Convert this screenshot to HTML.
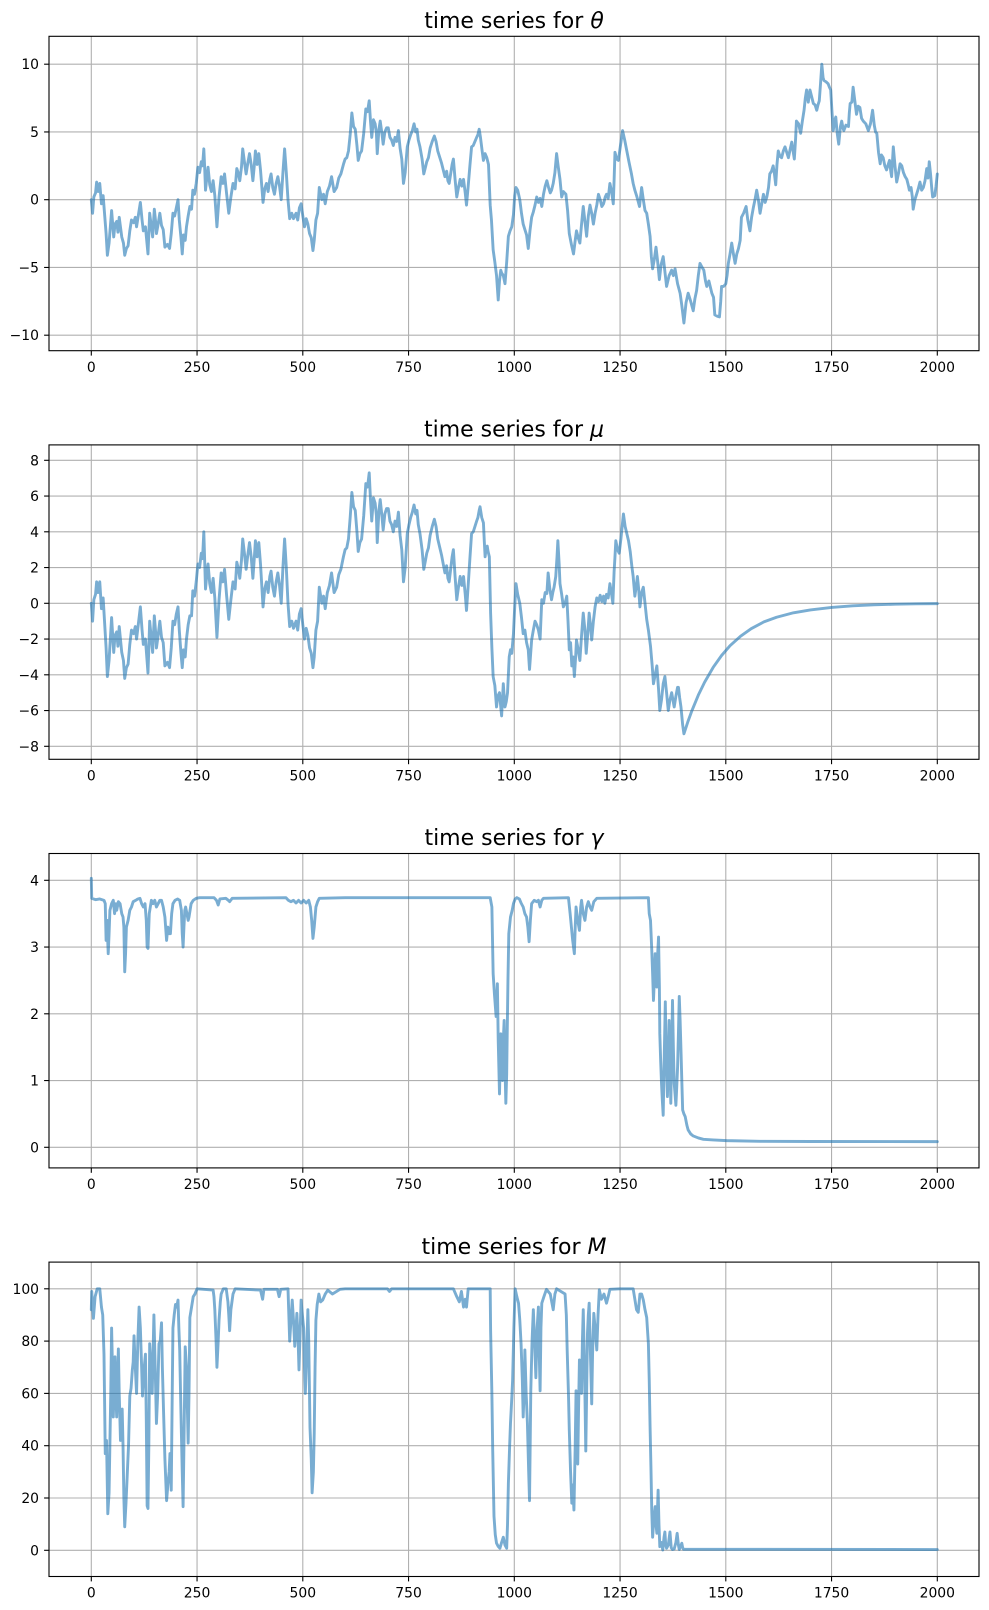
<!DOCTYPE html>
<html>
<head>
<meta charset="utf-8">
<style>
html,body{margin:0;padding:0;background:#fff;}
svg{display:block;}
text{font-family:"DejaVu Sans","Liberation Sans",sans-serif;fill:#000;}
.t{font-size:22px;text-anchor:middle;}
.xl{font-size:13.9px;text-anchor:middle;}
.yl{font-size:13.9px;text-anchor:end;}
.g line{stroke:#b0b0b0;stroke-width:1.1;}
.tk line{stroke:#000;stroke-width:1.1;}
.ax{fill:none;stroke:#000;stroke-width:1.1;}
.s{fill:none;stroke:#1f77b4;stroke-opacity:0.6;stroke-width:2.9;stroke-linejoin:round;stroke-linecap:round;}
</style>
</head>
<body>
<svg width="989" height="1610" viewBox="0 0 989 1610" xmlns="http://www.w3.org/2000/svg">
<rect width="989" height="1610" fill="#fff"/>

<!-- ================= PLOT 1 : theta ================= -->
<g class="g">
<line x1="91.3" y1="36.3" x2="91.3" y2="350.7"/><line x1="197.05" y1="36.3" x2="197.05" y2="350.7"/><line x1="302.8" y1="36.3" x2="302.8" y2="350.7"/><line x1="408.55" y1="36.3" x2="408.55" y2="350.7"/><line x1="514.3" y1="36.3" x2="514.3" y2="350.7"/><line x1="620.05" y1="36.3" x2="620.05" y2="350.7"/><line x1="725.8" y1="36.3" x2="725.8" y2="350.7"/><line x1="831.55" y1="36.3" x2="831.55" y2="350.7"/><line x1="937.3" y1="36.3" x2="937.3" y2="350.7"/>
<line x1="49" y1="64.2" x2="979" y2="64.2"/><line x1="49" y1="131.95" x2="979" y2="131.95"/><line x1="49" y1="199.7" x2="979" y2="199.7"/><line x1="49" y1="267.45" x2="979" y2="267.45"/><line x1="49" y1="335.2" x2="979" y2="335.2"/>
</g>
<g transform="translate(91.3,199.7) scale(0.423,-13.55)">
<polyline class="s" vector-effect="non-scaling-stroke" points="0,0 3,-1 6,0.2 10,0.5 12.6,1.3 16,0.6 20,1.2 24,-0.3 28,0.3 35,-2.5 38,-4.1 42,-3.2 48,-0.8 53,-2.75 56,-1.8 60,-1.6 63,-2.4 66,-1.3 72,-2.75 76,-3.2 79,-4.1 83,-3.6 87,-3.4 91,-2.3 95,-1.5 100,-1.7 104,-1.3 107,-2 112,-1.0 116,-0.2 120,-1.5 123,-2.3 128,-2.0 134,-4 136,-2.5 138,-1 142,-2.0 145,-2.75 149,-0.7 152,-1.6 154,-2.5 158,-1.8 162,-1 166,-1.9 170,-2.2 174,-3.5 180,-3.3 185,-3.6 189,-2.5 193,-1 197,-1.2 201,-0.6 205,0 208,-1.5 212,-2.8 215,-4 218,-2.6 222,-3.0 225,-2 229,-1.2 233,-0.5 237,-0.7 240,0.7 244,0.4 248,1.2 252,2.4 256,2.0 260,2.8 263,2.5 266,3.75 268,2.4 270,0.7 273,1.6 276,2.4 280,1.1 284,0.6 288,1.4 292,0.3 297,-2 302,0.2 307,1.7 311,1.2 315,1.9 320,0.4 325,-1 330,0.2 335,1.2 340,0.8 344,2.3 348,1.9 351,1.4 355,2.4 358,3.75 362,2.8 366,1.9 370,2.7 374,3.4 378,2.6 382,1.4 385,2.4 388,3.6 392,2.6 396,3.4 400,2.2 403,1.0 406,-0.2 410,0.8 414,1.2 418,0.6 422,1.5 425,1.9 429,0.9 433,0.4 437,1.2 441,1.7 445,1.0 449,0 453,2.0 457,3.75 461,2.0 465,0 469,-1.4 474,-1.0 478,-1.4 484,-1 488,-1.5 492,-0.6 496,-0.3 500,-1.2 504,-2 508,-1.4 512,-1.8 516,-2.5 520,-2.8 524,-3.75 527,-3.0 531,-1.5 535,-1.0 539,0.9 545,0 549,0.4 553,-0.3 558,0.6 563,1.0 568,1.7 574,0.6 580,0.9 585,1.6 590,1.9 596,2.6 600,3.0 604,3.1 608,3.6 612,4.8 616,6.4 620,5.4 624,5.2 628,4.0 631,2.9 635,3.4 639,3.6 644,4.9 649,6.7 653,6.5 657,7.3 660,5.8 663,4.6 667,5.9 671,5.6 674,4.9 676,3.4 680,5.2 683,5.8 687,4.9 690,4.1 694,5.0 698,5.3 702,5.3 706,4.6 710,4.4 714,4.0 718,4.6 722,4.3 726,5.1 730,3.8 734,3.0 738,1.2 742,2.0 747,3.9 751,4.4 755,4.8 759,5.1 763,5.6 767,5.0 770,5.2 773,4.4 777,3.9 782,3.0 786,1.9 790,2.4 793,2.8 797,3.1 801,3.8 806,4.3 811,4.7 815,4.3 819,3.6 824,3.1 828,2.7 832,2.2 836,1.7 840,2.1 843,1.4 846,1.2 850,2.0 853,2.6 856,3.0 860,1.5 864,0.2 868,0.9 872,1.5 876,1.0 880,1.5 884,0.5 887,-0.4 891,1.0 895,2.5 899,3.9 903,4.0 907,4.3 911,4.6 914,4.8 917,5.2 920,4.6 924,3.6 927,2.9 931,3.4 935,3.1 939,2.6 943,-0.4 946,-1.5 950,-3.7 954,-4.6 958,-5.6 962,-7.4 965,-6.0 968,-5.2 970,-5.4 974,-5.6 978,-6.2 982,-4.6 986,-2.7 990,-2.3 994,-2.0 998,-1.1 1001,0.3 1004,0.9 1008,0.7 1013,0 1017,-1.0 1021,-1.8 1025,-2.2 1029,-2.6 1033,-3.6 1037,-2.3 1041,-1.3 1045,-0.9 1049,-0.4 1053,0.2 1057,-0.2 1061,0.1 1065,-0.5 1069,0.4 1073,1.0 1077,1.4 1081,0.9 1085,0.5 1088,0.7 1092,1.2 1096,2.0 1100,3.4 1104,2.4 1108,1.5 1112,0.2 1116,0.6 1122,0.4 1126,-0.8 1130,-2.5 1135,-3.3 1140,-4.0 1144,-3.0 1147,-2.3 1151,-2.8 1155,-3.2 1159,-1.8 1163,-0.5 1167,-1.6 1171,-2.7 1175,-1.2 1179,-0.4 1183,-1.0 1187,-1.8 1191,-1.0 1195,-0.4 1199,0.4 1203,0 1207,-0.5 1211,-0.3 1215,0.2 1218,0.4 1222,0.1 1226,1.2 1230,0.6 1234,-0.3 1236,1.5 1238,3.5 1242,3.0 1246,2.9 1251,4.0 1256,5.1 1261,4.4 1266,3.6 1271,2.8 1277,1.9 1281,1.2 1285,0.7 1290,0.2 1296,-0.5 1301,0.9 1305,0.0 1309,-0.8 1313,-1.0 1317,-1.8 1321,-2.7 1324,-4.2 1327,-5.1 1331,-4.4 1335,-3.5 1339,-4.6 1343,-5.9 1347,-4.8 1352,-4.2 1356,-5.3 1360,-6.4 1366,-5.6 1372,-5.2 1376,-5.6 1380,-5.1 1386,-6.2 1392,-6.9 1396,-7.8 1401,-9.1 1406,-7.6 1411,-6.9 1417,-7.5 1423,-8.2 1427,-7.3 1431,-6.7 1435,-5.6 1439,-4.7 1444,-5.0 1448,-5.2 1452,-6.0 1455,-6.4 1460,-6.0 1467,-6.9 1471,-7.2 1474,-8.5 1480,-8.6 1485,-8.65 1488,-7.5 1490,-6.4 1495,-6.4 1500,-6.2 1503,-5.6 1506,-4.7 1510,-4.0 1514,-3.2 1518,-4.0 1522,-4.7 1526,-4.0 1530,-3.6 1534,-3.0 1537,-1.3 1542,-1.0 1548,-0.5 1552,-1.5 1557,-2.3 1561,-1.3 1565,-0.6 1569,0 1573,0.7 1577,0.0 1581,-1 1585,-0.3 1589,0.4 1593,-0.2 1597,0.2 1601,0.9 1604,1.9 1608,2.1 1612,2.5 1615,1.9 1618,1.1 1621,2.6 1624,3.6 1628,3.2 1632,3.1 1636,3.6 1640,3.9 1644,3.5 1648,3.1 1652,3.7 1656,4.25 1659,3.6 1662,3.0 1665,4.5 1667,5.8 1672,5.6 1677,4.9 1681,5.8 1685,6.6 1688,7.5 1691,8.1 1695,7.2 1699,8.1 1703,7.6 1707,7.1 1711,7.0 1715,6.6 1718,7.0 1721,7.3 1724,8.6 1727,10 1730,9.0 1732,8.8 1737,8.7 1742,8.55 1745,8.3 1748,8.1 1751,6.5 1754,5.1 1757,5.8 1760,6.1 1763,5.0 1767,4.1 1771,5.4 1774,5.8 1777,5.3 1779,5.1 1784,5.5 1790,5.4 1792,6.4 1794,7.1 1798,7.2 1801,8.3 1805,7.3 1809,6.3 1813,6.9 1817,6.8 1821,6.0 1825,5.8 1831,5.6 1837,5.1 1842,5.6 1847,6.6 1851,5.5 1854,5.0 1857,4.9 1861,3.5 1865,2.65 1868,3.3 1872,3.1 1876,2.5 1880,2.2 1884,2.6 1887,2.9 1890,2.1 1892,1.7 1894,2.8 1896,3.9 1900,2.5 1904,1.3 1908,1.9 1912,2.65 1916,2.5 1920,2.0 1924,1.7 1928,1.5 1932,1.0 1934,0.7 1938,0.9 1941,0.2 1943,-0.7 1947,0.0 1951,0.4 1955,0.8 1959,1.3 1963,0.7 1967,0.9 1971,1.4 1975,2.3 1978,1.6 1981,2.8 1984,1.9 1987,0.8 1989,0.2 1994,0.3 1997,1.0 2000,1.9"/>
</g>
<rect class="ax" x="49" y="36.3" width="930" height="314.4"/>
<g class="tk">
<line x1="91.3" y1="350.7" x2="91.3" y2="355.6"/><line x1="197.05" y1="350.7" x2="197.05" y2="355.6"/><line x1="302.8" y1="350.7" x2="302.8" y2="355.6"/><line x1="408.55" y1="350.7" x2="408.55" y2="355.6"/><line x1="514.3" y1="350.7" x2="514.3" y2="355.6"/><line x1="620.05" y1="350.7" x2="620.05" y2="355.6"/><line x1="725.8" y1="350.7" x2="725.8" y2="355.6"/><line x1="831.55" y1="350.7" x2="831.55" y2="355.6"/><line x1="937.3" y1="350.7" x2="937.3" y2="355.6"/>
<line x1="44.1" y1="64.2" x2="49" y2="64.2"/><line x1="44.1" y1="131.95" x2="49" y2="131.95"/><line x1="44.1" y1="199.7" x2="49" y2="199.7"/><line x1="44.1" y1="267.45" x2="49" y2="267.45"/><line x1="44.1" y1="335.2" x2="49" y2="335.2"/>
</g>
<text class="xl" x="91.3" y="371.8">0</text><text class="xl" x="197.05" y="371.8">250</text><text class="xl" x="302.8" y="371.8">500</text><text class="xl" x="408.55" y="371.8">750</text><text class="xl" x="514.3" y="371.8">1000</text><text class="xl" x="620.05" y="371.8">1250</text><text class="xl" x="725.8" y="371.8">1500</text><text class="xl" x="831.55" y="371.8">1750</text><text class="xl" x="937.3" y="371.8">2000</text>
<text class="yl" x="39" y="69.2">10</text><text class="yl" x="39" y="136.95">5</text><text class="yl" x="39" y="204.7">0</text><text class="yl" x="39" y="272.45">−5</text><text class="yl" x="39" y="340.2">−10</text>
<text class="t" x="514" y="28">time series for <tspan font-style="italic">θ</tspan></text>

<!-- ================= PLOT 2 : mu ================= -->
<g class="g">
<line x1="91.3" y1="444.9" x2="91.3" y2="759.3"/><line x1="197.05" y1="444.9" x2="197.05" y2="759.3"/><line x1="302.8" y1="444.9" x2="302.8" y2="759.3"/><line x1="408.55" y1="444.9" x2="408.55" y2="759.3"/><line x1="514.3" y1="444.9" x2="514.3" y2="759.3"/><line x1="620.05" y1="444.9" x2="620.05" y2="759.3"/><line x1="725.8" y1="444.9" x2="725.8" y2="759.3"/><line x1="831.55" y1="444.9" x2="831.55" y2="759.3"/><line x1="937.3" y1="444.9" x2="937.3" y2="759.3"/>
<line x1="49" y1="460.3" x2="979" y2="460.3"/><line x1="49" y1="496.05" x2="979" y2="496.05"/><line x1="49" y1="531.8" x2="979" y2="531.8"/><line x1="49" y1="567.55" x2="979" y2="567.55"/><line x1="49" y1="603.3" x2="979" y2="603.3"/><line x1="49" y1="639.05" x2="979" y2="639.05"/><line x1="49" y1="674.8" x2="979" y2="674.8"/><line x1="49" y1="710.55" x2="979" y2="710.55"/><line x1="49" y1="746.3" x2="979" y2="746.3"/>
</g>
<g transform="translate(91.3,603.3) scale(0.423,-17.875)">
<polyline class="s" vector-effect="non-scaling-stroke" points="0,0 3,-1 6,0.2 10,0.5 12.6,1.2 16,0.6 20,1.2 24,-0.3 28,0.3 35,-2.5 38,-4.1 42,-3.2 48,-0.8 53,-2.75 56,-1.8 60,-1.6 63,-2.4 66,-1.3 72,-2.75 76,-3.2 79,-4.2 83,-3.6 87,-3.4 91,-2.3 95,-1.5 100,-1.7 104,-1.3 107,-2 112,-1.0 116,-0.2 120,-1.5 123,-2.3 128,-2.0 134,-3.9 136,-2.5 138,-1 142,-2.0 145,-2.75 149,-0.7 152,-1.6 154,-2.5 158,-1.8 162,-1 166,-1.9 170,-2.2 174,-3.5 180,-3.3 185,-3.6 189,-2.5 193,-1 197,-1.2 201,-0.6 205,-0.2 208,-1.5 212,-2.8 215,-3.6 218,-2.6 222,-3.0 225,-2 229,-1.2 233,-0.7 237,-0.7 240,0.7 244,0.4 248,1.2 252,2.2 256,2.0 260,2.8 263,2.5 266,4.0 268,2.4 270,0.8 273,1.6 276,2.2 280,1.1 284,0.6 288,1.4 292,0.3 297,-1.9 302,0.2 307,1.7 311,1.2 315,1.9 320,0.4 325,-0.9 330,0.2 335,1.2 340,0.8 344,2.3 348,1.9 351,1.4 355,2.4 358,3.6 362,2.8 366,1.9 370,2.7 374,3.4 378,2.6 382,1.4 385,2.4 388,3.5 392,2.6 396,3.4 400,2.2 403,1.0 406,-0.2 410,0.8 414,1.2 418,0.6 422,1.5 425,1.8 429,0.9 433,0.4 437,1.2 441,1.7 445,1.0 449,0 453,2.0 457,3.6 461,2.0 465,0 469,-1.3 474,-1.0 478,-1.4 484,-1 488,-1.5 492,-0.6 496,-0.3 500,-1.2 504,-2 508,-1.4 512,-1.8 516,-2.5 520,-2.8 524,-3.6 527,-3.0 531,-1.5 535,-1.0 539,0.9 545,0 549,0.4 553,-0.3 558,0.6 563,1.0 568,1.7 574,0.6 580,0.9 585,1.6 590,1.9 596,2.6 600,3.0 604,3.1 608,3.6 612,4.8 616,6.2 620,5.4 624,5.2 628,4.0 631,2.9 635,3.4 639,3.6 644,4.9 649,6.7 653,6.5 657,7.3 660,5.8 663,4.6 667,5.9 671,5.6 674,4.9 676,3.4 680,5.2 683,5.8 687,4.9 690,4.1 694,5.0 698,5.3 702,5.3 706,4.6 710,4.4 714,4.0 718,4.6 722,4.3 726,5.1 730,3.8 734,3.0 738,1.2 742,2.0 747,3.9 751,4.4 755,4.8 759,5.1 763,5.5 767,5.0 770,5.2 773,4.4 777,3.9 782,3.0 786,1.9 790,2.4 793,2.8 797,3.1 801,3.8 806,4.3 811,4.7 815,4.3 819,3.6 824,3.1 828,2.7 832,2.2 836,1.7 840,2.1 843,1.4 846,1.2 850,2.0 853,2.6 856,3.0 860,1.5 864,0.2 868,0.9 872,1.5 876,1.0 880,1.5 884,0.5 887,-0.4 891,1.0 895,2.5 899,3.9 903,4.0 907,4.3 911,4.6 914,4.8 917,5.2 919,5.4 923,4.8 927,4.5 929,3.5 931,2.6 933,3.0 936,3.2 938,2.9 941,2.6 944,-0.55 947,-2.5 950,-4.1 954,-4.6 958,-5.8 961,-5.2 965,-5.0 968,-5.8 970,-6.3 972,-5.4 974,-4.5 976,-5.2 978,-5.8 981,-5.5 984,-5.0 988,-3.0 991,-2.6 994,-2.8 998,-1.7 1001,-0.2 1004,1.1 1008,0.5 1013,0 1017,-0.8 1021,-1.7 1025,-1.5 1029,-2.2 1033,-2.6 1036,-3.7 1041,-2.05 1045,-1.5 1049,-1.0 1053,-1.2 1057,-1.5 1061,-2.0 1065,0.2 1069,0.0 1073,0.6 1077,0.55 1080,1.7 1084,0.8 1088,0.2 1091,0.6 1094,0.9 1098,1.5 1101,2.6 1103,3.5 1106,2.2 1108,1.1 1112,0.5 1116,-0.2 1120,0.0 1124,0.4 1127,-1.0 1130,-2.6 1133,-2.2 1136,-3.5 1139,-3.0 1142,-4.1 1145,-3.0 1147,-2.05 1151,-2.6 1155,-3.2 1159,-1.8 1163,-0.55 1167,-1.5 1170,-2.8 1174,-1.6 1177,-0.55 1180,-1.2 1183,-2.05 1187,-1.0 1191,-0.2 1195,0.3 1199,0.1 1203,0.45 1207,0.1 1211,0.4 1214,0 1218,0.5 1222,0.3 1226,1.1 1230,0.5 1233,0 1236,1.8 1238,2.6 1240,3.5 1244,3.0 1248,2.8 1252,3.6 1255,4.3 1258,5.0 1262,4.3 1266,3.9 1270,3.5 1274,2.9 1278,2.05 1281,1.5 1285,0.4 1288,0.9 1291,1.5 1294,0.8 1297,-0.2 1301,0.6 1305,0.9 1309,0.0 1313,-0.9 1317,-1.5 1322,-2.4 1326,-3.5 1329,-4.5 1333,-4.0 1337,-3.5 1341,-4.8 1344,-6.0 1348,-5.4 1352,-4.5 1356,-4.1 1360,-5.0 1364,-6.0 1368,-5.4 1372,-5.0 1375,-5.4 1378,-5.8 1382,-5.2 1386,-4.7 1388,-4.7 1391,-5.3 1394,-5.8 1396,-6.3 1398,-6.8 1401,-7.3 1410,-6.65 1420,-6.0 1435,-5.14 1450,-4.41 1470,-3.59 1490,-2.92 1510,-2.37 1535,-1.84 1560,-1.42 1590,-1.04 1620,-0.78 1660,-0.53 1700,-0.37 1750,-0.23 1800,-0.14 1850,-0.085 1900,-0.05 1950,-0.03 2000,-0.018"/>
</g>
<rect class="ax" x="49" y="444.9" width="930" height="314.4"/>
<g class="tk">
<line x1="91.3" y1="759.3" x2="91.3" y2="764.2"/><line x1="197.05" y1="759.3" x2="197.05" y2="764.2"/><line x1="302.8" y1="759.3" x2="302.8" y2="764.2"/><line x1="408.55" y1="759.3" x2="408.55" y2="764.2"/><line x1="514.3" y1="759.3" x2="514.3" y2="764.2"/><line x1="620.05" y1="759.3" x2="620.05" y2="764.2"/><line x1="725.8" y1="759.3" x2="725.8" y2="764.2"/><line x1="831.55" y1="759.3" x2="831.55" y2="764.2"/><line x1="937.3" y1="759.3" x2="937.3" y2="764.2"/>
<line x1="44.1" y1="460.3" x2="49" y2="460.3"/><line x1="44.1" y1="496.05" x2="49" y2="496.05"/><line x1="44.1" y1="531.8" x2="49" y2="531.8"/><line x1="44.1" y1="567.55" x2="49" y2="567.55"/><line x1="44.1" y1="603.3" x2="49" y2="603.3"/><line x1="44.1" y1="639.05" x2="49" y2="639.05"/><line x1="44.1" y1="674.8" x2="49" y2="674.8"/><line x1="44.1" y1="710.55" x2="49" y2="710.55"/><line x1="44.1" y1="746.3" x2="49" y2="746.3"/>
</g>
<text class="xl" x="91.3" y="780.4">0</text><text class="xl" x="197.05" y="780.4">250</text><text class="xl" x="302.8" y="780.4">500</text><text class="xl" x="408.55" y="780.4">750</text><text class="xl" x="514.3" y="780.4">1000</text><text class="xl" x="620.05" y="780.4">1250</text><text class="xl" x="725.8" y="780.4">1500</text><text class="xl" x="831.55" y="780.4">1750</text><text class="xl" x="937.3" y="780.4">2000</text>
<text class="yl" x="39" y="465.3">8</text><text class="yl" x="39" y="501.05">6</text><text class="yl" x="39" y="536.8">4</text><text class="yl" x="39" y="572.55">2</text><text class="yl" x="39" y="608.3">0</text><text class="yl" x="39" y="644.05">−2</text><text class="yl" x="39" y="679.8">−4</text><text class="yl" x="39" y="715.55">−6</text><text class="yl" x="39" y="751.3">−8</text>
<text class="t" x="514" y="436.6">time series for <tspan font-style="italic">μ</tspan></text>

<!-- ================= PLOT 3 : gamma ================= -->
<g class="g">
<line x1="91.3" y1="853.5" x2="91.3" y2="1167.9"/><line x1="197.05" y1="853.5" x2="197.05" y2="1167.9"/><line x1="302.8" y1="853.5" x2="302.8" y2="1167.9"/><line x1="408.55" y1="853.5" x2="408.55" y2="1167.9"/><line x1="514.3" y1="853.5" x2="514.3" y2="1167.9"/><line x1="620.05" y1="853.5" x2="620.05" y2="1167.9"/><line x1="725.8" y1="853.5" x2="725.8" y2="1167.9"/><line x1="831.55" y1="853.5" x2="831.55" y2="1167.9"/><line x1="937.3" y1="853.5" x2="937.3" y2="1167.9"/>
<line x1="49" y1="880.3" x2="979" y2="880.3"/><line x1="49" y1="947.05" x2="979" y2="947.05"/><line x1="49" y1="1013.8" x2="979" y2="1013.8"/><line x1="49" y1="1080.55" x2="979" y2="1080.55"/><line x1="49" y1="1147.3" x2="979" y2="1147.3"/>
</g>
<g transform="translate(91.3,1147.3) scale(0.423,-66.75)">
<polyline class="s" vector-effect="non-scaling-stroke" points="0,4.03 1,3.73 10,3.71 20,3.72 30,3.70 33,3.65 35,3.1 37,3.4 40,2.9 42,3.2 44,3.55 48,3.65 52,3.7 55,3.5 58,3.65 60,3.55 64,3.68 68,3.65 72,3.5 75,3.45 77,3.3 79,2.63 81,2.9 83,3.3 87,3.4 91,3.55 95,3.6 99,3.68 105,3.7 110,3.72 115,3.73 119,3.65 123,3.6 127,3.65 130,3.4 132,3.0 134,2.98 137,3.5 142,3.7 146,3.65 150,3.7 154,3.6 158,3.65 162,3.7 166,3.7 170,3.6 174,3.45 178,3.1 181,3.3 184,3.2 187,3.2 190,3.5 193,3.65 198,3.7 204,3.72 209,3.7 213,3.55 215,3.2 217,3.0 219,3.3 221,3.55 223,3.6 226,3.5 229,3.4 231,3.45 236,3.65 241,3.7 248,3.73 256,3.74 290,3.74 296,3.70 300,3.63 304,3.72 318,3.73 324,3.70 327,3.68 333,3.73 460,3.74 466,3.70 472,3.68 478,3.7 484,3.66 490,3.7 496,3.66 502,3.7 508,3.66 514,3.7 518,3.6 521,3.4 524,3.13 527,3.3 531,3.6 535,3.68 539,3.73 600,3.74 943,3.74 947,3.6 950,2.6 953,2.3 957,1.96 960,2.45 962,1.6 965,0.8 968,1.7 970,1.2 972,1.0 974,1.6 976,1.9 978,1.2 980,0.66 982,1.1 983,1.6 985,2.5 987,3.2 991,3.45 995,3.55 998,3.65 1002,3.72 1006,3.74 1012,3.72 1016,3.66 1021,3.6 1025,3.5 1029,3.45 1032,3.3 1035,3.08 1038,3.4 1041,3.65 1047,3.7 1053,3.68 1057,3.7 1061,3.6 1065,3.7 1069,3.73 1128,3.74 1132,3.5 1135,3.3 1138,3.1 1142,2.9 1144,3.3 1146,3.6 1150,3.4 1154,3.25 1157,3.6 1159,3.7 1163,3.5 1167,3.4 1171,3.6 1175,3.68 1179,3.6 1183,3.55 1188,3.68 1195,3.73 1317,3.74 1319,3.5 1322,3.4 1325,2.95 1327,2.6 1329,2.2 1331,2.5 1333,2.9 1335,2.7 1337,2.4 1339,2.9 1341,3.15 1343,2.4 1344,1.7 1346,1.3 1348,0.96 1350,0.7 1352,0.48 1354,1.2 1357,2.18 1359,1.4 1362,0.76 1364,1.3 1366,1.9 1368,1.2 1370,0.66 1372,1.4 1374,2.2 1376,1.5 1378,0.96 1380,0.8 1382,0.63 1384,0.9 1386,1.2 1388,1.7 1390,2.26 1392,1.9 1394,1.46 1396,1.0 1398,0.56 1401,0.5 1404,0.46 1408,0.33 1411,0.26 1417,0.2 1423,0.17 1435,0.14 1447,0.12 1470,0.11 1502,0.1 1581,0.09 1700,0.087 2000,0.085"/>
</g>
<rect class="ax" x="49" y="853.5" width="930" height="314.4"/>
<g class="tk">
<line x1="91.3" y1="1167.9" x2="91.3" y2="1172.8"/><line x1="197.05" y1="1167.9" x2="197.05" y2="1172.8"/><line x1="302.8" y1="1167.9" x2="302.8" y2="1172.8"/><line x1="408.55" y1="1167.9" x2="408.55" y2="1172.8"/><line x1="514.3" y1="1167.9" x2="514.3" y2="1172.8"/><line x1="620.05" y1="1167.9" x2="620.05" y2="1172.8"/><line x1="725.8" y1="1167.9" x2="725.8" y2="1172.8"/><line x1="831.55" y1="1167.9" x2="831.55" y2="1172.8"/><line x1="937.3" y1="1167.9" x2="937.3" y2="1172.8"/>
<line x1="44.1" y1="880.3" x2="49" y2="880.3"/><line x1="44.1" y1="947.05" x2="49" y2="947.05"/><line x1="44.1" y1="1013.8" x2="49" y2="1013.8"/><line x1="44.1" y1="1080.55" x2="49" y2="1080.55"/><line x1="44.1" y1="1147.3" x2="49" y2="1147.3"/>
</g>
<text class="xl" x="91.3" y="1189">0</text><text class="xl" x="197.05" y="1189">250</text><text class="xl" x="302.8" y="1189">500</text><text class="xl" x="408.55" y="1189">750</text><text class="xl" x="514.3" y="1189">1000</text><text class="xl" x="620.05" y="1189">1250</text><text class="xl" x="725.8" y="1189">1500</text><text class="xl" x="831.55" y="1189">1750</text><text class="xl" x="937.3" y="1189">2000</text>
<text class="yl" x="39" y="885.3">4</text><text class="yl" x="39" y="952.05">3</text><text class="yl" x="39" y="1018.8">2</text><text class="yl" x="39" y="1085.55">1</text><text class="yl" x="39" y="1152.3">0</text>
<text class="t" x="514" y="845.2">time series for <tspan font-style="italic">γ</tspan></text>

<!-- ================= PLOT 4 : M ================= -->
<g class="g">
<line x1="91.3" y1="1262.1" x2="91.3" y2="1576.5"/><line x1="197.05" y1="1262.1" x2="197.05" y2="1576.5"/><line x1="302.8" y1="1262.1" x2="302.8" y2="1576.5"/><line x1="408.55" y1="1262.1" x2="408.55" y2="1576.5"/><line x1="514.3" y1="1262.1" x2="514.3" y2="1576.5"/><line x1="620.05" y1="1262.1" x2="620.05" y2="1576.5"/><line x1="725.8" y1="1262.1" x2="725.8" y2="1576.5"/><line x1="831.55" y1="1262.1" x2="831.55" y2="1576.5"/><line x1="937.3" y1="1262.1" x2="937.3" y2="1576.5"/>
<line x1="49" y1="1288.8" x2="979" y2="1288.8"/><line x1="49" y1="1341.1" x2="979" y2="1341.1"/><line x1="49" y1="1393.4" x2="979" y2="1393.4"/><line x1="49" y1="1445.7" x2="979" y2="1445.7"/><line x1="49" y1="1498" x2="979" y2="1498"/><line x1="49" y1="1550.3" x2="979" y2="1550.3"/>
</g>
<g transform="translate(91.3,1550.3) scale(0.423,-2.615)">
<polyline class="s" vector-effect="non-scaling-stroke" points="0,92 1,99 5,88.7 9,97 14,100 20,100 24,93 27,90 30,75 33,37 36,42 39,14 42,22 44,41 46,60 48,85 50,70 52,51 54,62 56,74 58,60 60,51 62,65 64,77 66,60 69,42 71,50 73,54 75,40 77,20 79,9 82,18 85,29 88,40 91,59 94,62 97,69 99,72 101,82 104,70 107,60 110,80 113,93 116,85 119,70 121,59 124,68 128,75 130,50 132,17 134,16 136,40 138,79 141,70 144,60 146,75 148,90 151,70 154,48.5 157,60 160,79 163,80 166,87 168,70 171,52 174,35 178,19 181,25 184,30 186,37 189,23 191,55 193,85 196,90 199,94 202,93 205,95.7 207,85 209,76.5 211,60 213,44.7 215,30 217,16.7 219,40 222,77.8 225,70 227,55 229,41 231,60 233,89 237,93 241,97 245,98 250,100 288,99.5 290,97 292,92 295,80 297,70 300,80 302,88 305,95 307,98 312,100 319,100 323,95 325,90 327,84 330,92 335,98 340,100 400,99.5 405,96 408,99.8 440,99.8 444,97 448,99.8 465,100 467,90 469,80 472,88 475,95.7 478,88 481,78 484,85 486,90.6 489,80 491,69 494,85 496,95.7 499,90 502,85 504,70 506,60 509,75 512,92 514,80 517,47 520,35 522,22 525,30 527,44.7 529,70 531,88 534,94 538,98 542,95 547,95.7 553,98 559,99.5 570,98 588,99.8 600,100 700,100 705,99 710,100 856,100 864,97 870,95 875,99 880,93 884,96 887,93 891,100 943,100 944,84 947,60 949,38 952,13 955,6 958,2.7 962,1.5 966,0.8 970,3 974,5 978,2 982,0.8 984,10 986,25.6 989,40 991,48.6 994,58 996,65 999,85 1002,100 1006,97 1010,94.5 1013,88 1016,79 1019,65 1021,51 1023,60 1025,76.6 1028,60 1031,48.6 1034,30 1036,19 1039,61 1042,80 1045,92 1048,80 1051,66 1054,85 1057,93 1059,75 1061,61 1063,85 1065,94.5 1070,97 1076,99.8 1085,98 1092,92 1096,98 1100,100 1120,98 1123,90 1125,76.6 1128,60 1130,46 1133,30 1136,18 1138,25 1141,15.4 1144,40 1146,61 1148,45 1150,33 1152,55 1154,72.8 1157,65 1159,60 1161,80 1163,92 1166,70 1169,38 1171,60 1173,83 1175,90 1177,94.5 1180,75 1183,56 1185,75 1188,90.6 1191,85 1195,76.6 1198,90 1201,99.6 1206,96 1212,98 1218,94.5 1222,97 1226,99.8 1250,100 1281,100 1285,96 1289,92 1293,91 1297,98 1301,98 1305,95.7 1309,92 1313,89 1317,79 1319,65 1321,47 1323,32 1325,15 1327,5 1330,12 1333,16.7 1335,10 1337,6.5 1339,18 1340,23 1342,10 1344,1.4 1348,3 1351,0.1 1354,5 1356,7 1358,2 1360,0.8 1364,2 1368,7 1371,1 1374,0.3 1378,0.5 1382,3 1385,6.5 1388,2 1390,0.3 1393,1.5 1396,2.7 1398,1 1400,0.4 2000,0.3"/>
</g>
<rect class="ax" x="49" y="1262.1" width="930" height="314.4"/>
<g class="tk">
<line x1="91.3" y1="1576.5" x2="91.3" y2="1581.4"/><line x1="197.05" y1="1576.5" x2="197.05" y2="1581.4"/><line x1="302.8" y1="1576.5" x2="302.8" y2="1581.4"/><line x1="408.55" y1="1576.5" x2="408.55" y2="1581.4"/><line x1="514.3" y1="1576.5" x2="514.3" y2="1581.4"/><line x1="620.05" y1="1576.5" x2="620.05" y2="1581.4"/><line x1="725.8" y1="1576.5" x2="725.8" y2="1581.4"/><line x1="831.55" y1="1576.5" x2="831.55" y2="1581.4"/><line x1="937.3" y1="1576.5" x2="937.3" y2="1581.4"/>
<line x1="44.1" y1="1288.8" x2="49" y2="1288.8"/><line x1="44.1" y1="1341.1" x2="49" y2="1341.1"/><line x1="44.1" y1="1393.4" x2="49" y2="1393.4"/><line x1="44.1" y1="1445.7" x2="49" y2="1445.7"/><line x1="44.1" y1="1498" x2="49" y2="1498"/><line x1="44.1" y1="1550.3" x2="49" y2="1550.3"/>
</g>
<text class="xl" x="91.3" y="1597.6">0</text><text class="xl" x="197.05" y="1597.6">250</text><text class="xl" x="302.8" y="1597.6">500</text><text class="xl" x="408.55" y="1597.6">750</text><text class="xl" x="514.3" y="1597.6">1000</text><text class="xl" x="620.05" y="1597.6">1250</text><text class="xl" x="725.8" y="1597.6">1500</text><text class="xl" x="831.55" y="1597.6">1750</text><text class="xl" x="937.3" y="1597.6">2000</text>
<text class="yl" x="39" y="1293.8">100</text><text class="yl" x="39" y="1346.1">80</text><text class="yl" x="39" y="1398.4">60</text><text class="yl" x="39" y="1450.7">40</text><text class="yl" x="39" y="1503">20</text><text class="yl" x="39" y="1555.3">0</text>
<text class="t" x="514" y="1253.8">time series for <tspan font-style="italic">M</tspan></text>
</svg>
</body>
</html>
